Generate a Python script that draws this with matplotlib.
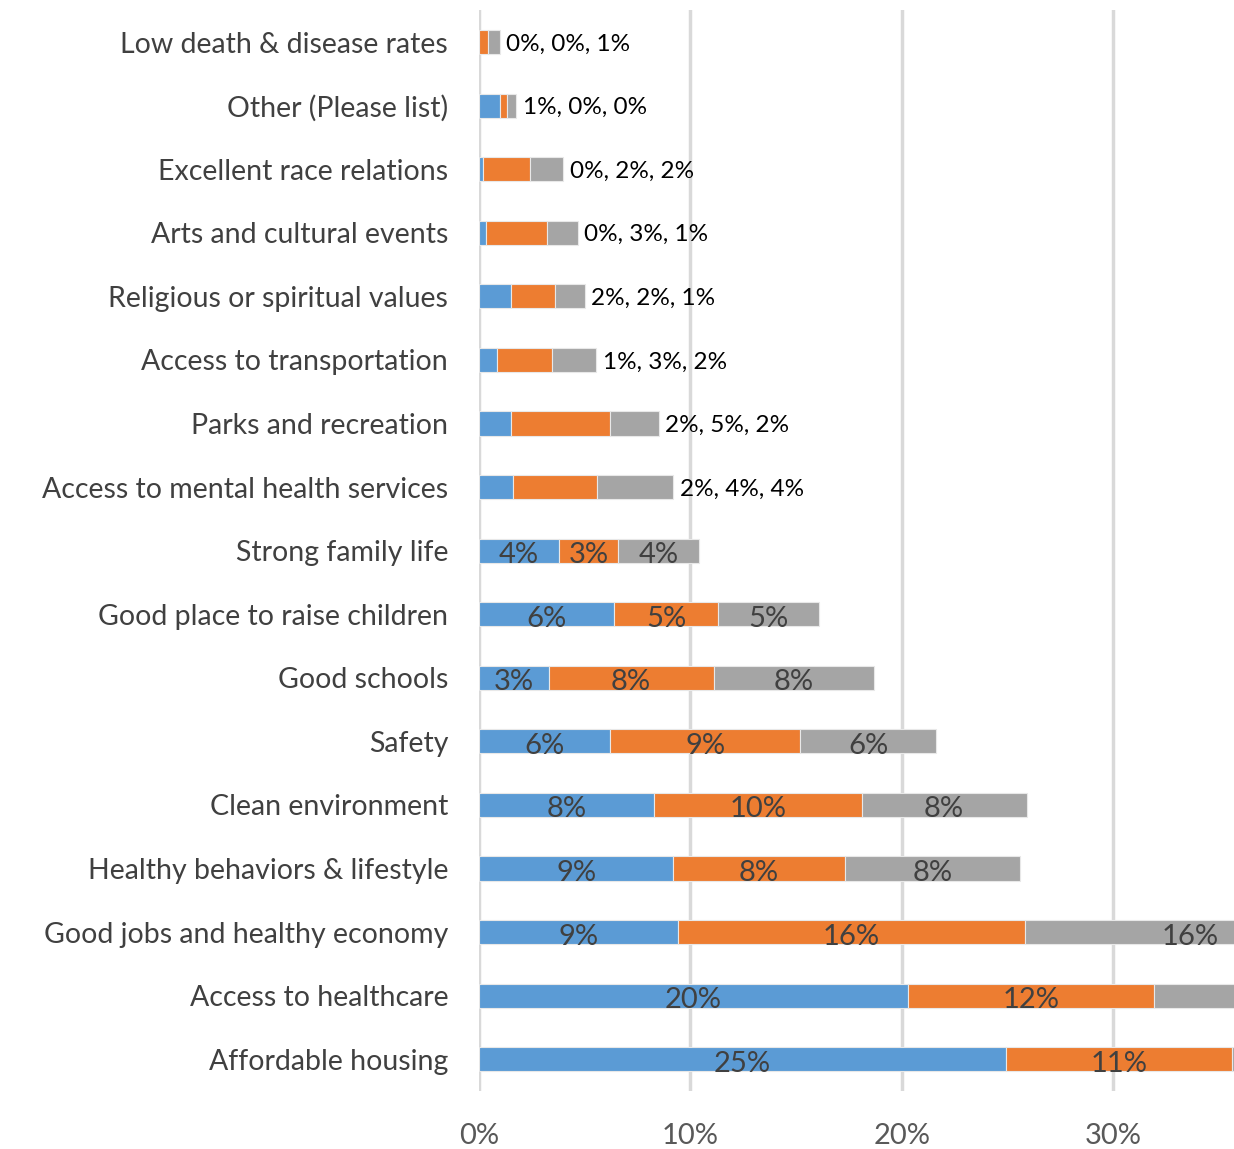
import matplotlib
matplotlib.use("Agg")
import matplotlib.pyplot as plt
import numpy as np

categories = [
    "Low death & disease rates",
    "Other (Please list)",
    "Excellent race relations",
    "Arts and cultural events",
    "Religious or spiritual values",
    "Access to transportation",
    "Parks and recreation",
    "Access to mental health services",
    "Strong family life",
    "Good place to raise children",
    "Good schools",
    "Safety",
    "Clean environment",
    "Healthy behaviors & lifestyle",
    "Good jobs and healthy economy",
    "Access to healthcare",
    "Affordable housing",
]
series1 = [0.0, 1.0, 0.2, 0.33, 1.5, 0.85, 1.5, 1.6, 3.8, 6.4, 3.3, 6.2, 8.3, 9.2, 9.4, 20.3, 24.9]
series2 = [0.45, 0.33, 2.2, 2.9, 2.1, 2.6, 4.7, 4.0, 2.8, 4.9, 7.8, 9.0, 9.8, 8.1, 16.4, 11.6, 10.7]
series3 = [0.55, 0.45, 1.6, 1.45, 1.4, 2.1, 2.3, 3.6, 3.8, 4.8, 7.6, 6.4, 7.8, 8.3, 15.7, 8.0, 6.0]
outside_labels = [True] * 8 + [False] * 9
xticks = [0, 10, 20, 30]
xmax = 35.7

colors = ["#5B9BD5", "#ED7D31", "#A5A5A5"]
FONT = "Lato"


def pct(v):
    return f"{int(np.floor(v + 0.5))}%"


fig = plt.figure(figsize=(12.34, 11.49), dpi=100)
ax = fig.add_axes([0.388, 0.0505, 0.612, 0.9405])

n = len(categories)
yy = np.array([n - 1 - i for i in range(n)])

data = [np.array(series1), np.array(series2), np.array(series3)]
left = np.zeros(n)
bh = 0.38
for k, vals in enumerate(data):
    ax.barh(yy, vals, left=left, height=bh, color=colors[k], edgecolor="#E8E8E8",
            linewidth=0.8, zorder=3)
    for i in range(n):
        if not outside_labels[i]:
            c = left[i] + vals[i] / 2
            if c <= xmax:
                ax.text(c, yy[i] - 0.07, pct(vals[i]), ha="center", va="center",
                        fontsize=21, color="#404040", family=FONT, zorder=4)
    left = left + vals

for i in range(n):
    if outside_labels[i]:
        txt = ", ".join(pct(d[i]) for d in data)
        ax.text(left[i] + 0.3, yy[i] - 0.03, txt, ha="left", va="center",
                fontsize=17.5, color="black", family=FONT, zorder=4)

ax.set_xlim(0, xmax)
ax.set_ylim(-0.5, n - 0.5)
ax.set_yticks(yy)
ax.set_yticklabels(categories, fontsize=20.5, color="#404040", family=FONT)
ax.set_xticks(xticks)
ax.set_xticklabels([f"{t}%" for t in xticks], fontsize=21, color="#595959", family=FONT)
ax.tick_params(axis="both", length=0)
ax.tick_params(axis="y", pad=22)
ax.tick_params(axis="x", pad=23)
for s in ax.spines.values():
    s.set_visible(False)
ax.grid(axis="x", color="#D9D9D9", linewidth=2.5, zorder=0)
ax.set_axisbelow(True)

fig.savefig("out.png", dpi=100)
